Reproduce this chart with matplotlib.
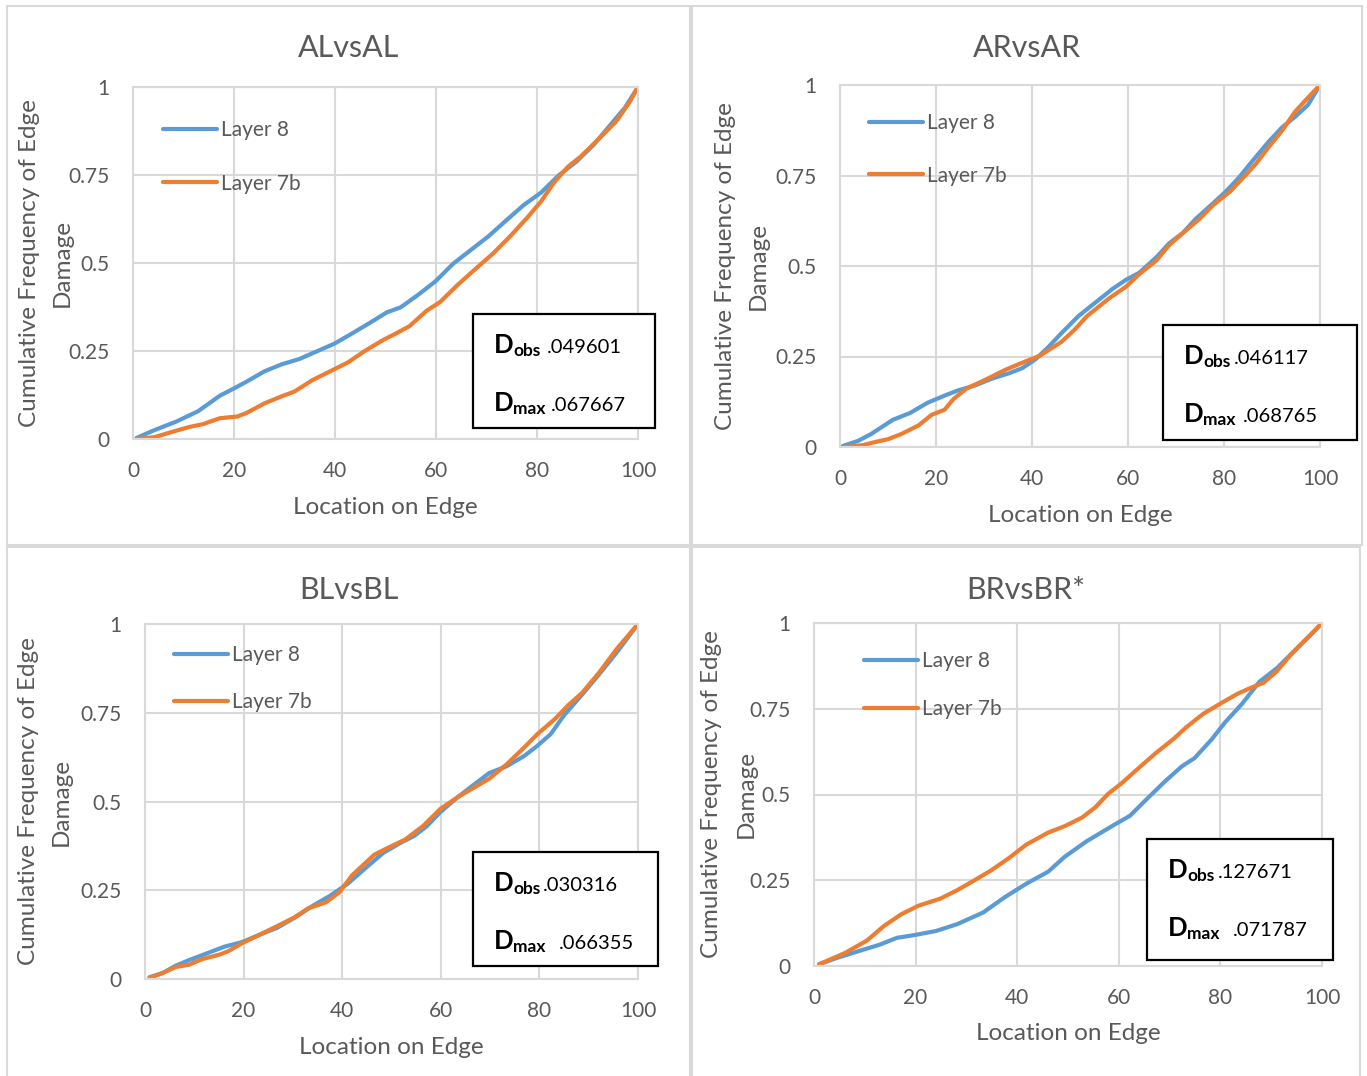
import matplotlib
matplotlib.use("Agg")
import matplotlib.pyplot as plt
from matplotlib.patches import Rectangle

plt.rcParams['font.family'] = ['Lato', 'DejaVu Sans']

# ---- data (location on edge, cumulative frequency) ----
al_x8 = [0.7, 4.2, 8.5, 12.9, 17.2, 19.9, 22.5, 26, 29.4, 32.9, 36.4, 39.9, 43.4, 46.9, 50.3,
         53, 56.4, 59.9, 63.4, 66.9, 70.4, 73.9, 77.4, 80.8, 84.3, 87.8, 91.3, 94.8, 97.4, 100]
al_y8 = [0.003, 0.025, 0.049, 0.079, 0.123, 0.143, 0.163, 0.192, 0.212, 0.227, 0.249, 0.271, 0.300,
         0.330, 0.360, 0.374, 0.409, 0.448, 0.498, 0.537, 0.576, 0.621, 0.665, 0.700, 0.749, 0.788,
         0.837, 0.897, 0.941, 1.0]
al_x7 = [0.7, 4.2, 7.7, 11.1, 13.8, 17.2, 20.7, 22.5, 26, 29.4, 32, 35.5, 39, 42.5, 46, 49.5, 52.1,
         54.7, 58.2, 60.8, 64.3, 67.8, 71.3, 74.7, 78.2, 80.8, 83.4, 86.1, 88.7, 92.2, 95.6, 98.3, 100]
al_y7 = [0.0, 0.005, 0.020, 0.034, 0.042, 0.059, 0.064, 0.074, 0.101, 0.121, 0.135, 0.167, 0.192,
         0.217, 0.251, 0.281, 0.300, 0.320, 0.365, 0.389, 0.438, 0.483, 0.527, 0.576, 0.631, 0.675,
         0.729, 0.773, 0.803, 0.852, 0.901, 0.956, 1.0]

ar_x8 = [0.6, 3.8, 6.5, 11, 14.6, 18.2, 21.8, 24.5, 28.1, 31.7, 35.3, 38, 40.7, 43.4, 46.1, 49.7,
         53.3, 56.9, 59.6, 62.3, 65.9, 68.6, 71.4, 74.1, 77.7, 80.4, 83.1, 85.8, 89.4, 92.1, 94.8,
         97.5, 100]
ar_y8 = [0.003, 0.017, 0.036, 0.075, 0.094, 0.122, 0.142, 0.156, 0.170, 0.189, 0.204, 0.218, 0.242,
         0.276, 0.314, 0.362, 0.400, 0.438, 0.462, 0.481, 0.524, 0.563, 0.591, 0.630, 0.673, 0.706,
         0.744, 0.788, 0.845, 0.883, 0.912, 0.945, 1.0]
ar_x7 = [1.1, 4.7, 7.4, 10.1, 12.8, 16.4, 19.1, 21.8, 23.6, 26.3, 30.8, 34.4, 38, 41.6, 46.1, 48.8,
         51.5, 56, 59.6, 62.3, 65.9, 68.6, 72.3, 74.9, 77.7, 81.3, 84, 86.7, 89.4, 92.1, 94.8, 97.5, 100]
ar_y7 = [0.0, 0.005, 0.014, 0.022, 0.036, 0.060, 0.089, 0.103, 0.132, 0.161, 0.189, 0.213, 0.233,
         0.252, 0.290, 0.323, 0.362, 0.410, 0.443, 0.477, 0.515, 0.558, 0.601, 0.630, 0.668, 0.706,
         0.744, 0.783, 0.830, 0.874, 0.926, 0.965, 1.0]

bl_x8 = [0.9, 3.6, 6.3, 8.9, 12.5, 16.1, 19.7, 23.3, 26.8, 30.4, 34, 37.6, 41.1, 44.7, 48.3, 51.9,
         54.6, 57.2, 59.9, 63.5, 66.2, 69.8, 73.3, 76.9, 79.6, 82.3, 85, 88.6, 92.1, 95.7, 100]
bl_y8 = [0.005, 0.017, 0.038, 0.053, 0.072, 0.091, 0.104, 0.125, 0.144, 0.173, 0.206, 0.235, 0.268,
         0.312, 0.355, 0.384, 0.403, 0.431, 0.470, 0.513, 0.542, 0.580, 0.599, 0.628, 0.657, 0.690,
         0.743, 0.800, 0.858, 0.920, 1.0]
bl_x7 = [0.9, 3.6, 6.3, 8.9, 11.6, 15.2, 17, 19.7, 23.3, 26.8, 30.4, 33.1, 36.7, 39.4, 42, 46.5,
         49.2, 52.8, 56.4, 59.9, 63.5, 67.1, 69.8, 73.3, 76.9, 79.6, 83.2, 85.9, 88.6, 92.1, 95.7, 100]
bl_y7 = [0.003, 0.017, 0.034, 0.040, 0.056, 0.069, 0.079, 0.101, 0.125, 0.149, 0.174, 0.199, 0.216,
         0.244, 0.292, 0.350, 0.369, 0.393, 0.431, 0.479, 0.513, 0.542, 0.564, 0.604, 0.652, 0.690,
         0.733, 0.772, 0.805, 0.863, 0.930, 1.0]

br_x8 = [1, 4.4, 8.7, 12.9, 16.3, 19.7, 24, 28.2, 33.3, 37.6, 41.8, 46.1, 49.4, 53.7, 58.8, 62.2,
         65.6, 69, 72.4, 74.9, 78.3, 80.9, 84.3, 87.7, 91.1, 94.5, 97.9, 100]
br_y8 = [0.005, 0.023, 0.043, 0.062, 0.082, 0.090, 0.102, 0.122, 0.156, 0.201, 0.240, 0.275, 0.319,
         0.364, 0.409, 0.438, 0.488, 0.537, 0.582, 0.606, 0.661, 0.710, 0.765, 0.829, 0.868, 0.918,
         0.967, 1.0]
br_x7 = [1, 6.1, 10.4, 13.8, 17.2, 20.6, 24.8, 28.2, 31.6, 35, 38.4, 41.8, 46.1, 49.4, 52.8, 55.4,
         57.9, 60.5, 63.9, 67.3, 70.7, 73.2, 76.6, 80, 83.4, 86, 88.5, 91.1, 93.6, 96.2, 100]
br_y7 = [0.005, 0.038, 0.074, 0.117, 0.151, 0.176, 0.196, 0.221, 0.250, 0.280, 0.315, 0.354, 0.389,
         0.408, 0.433, 0.463, 0.502, 0.532, 0.577, 0.621, 0.661, 0.695, 0.735, 0.765, 0.794, 0.811,
         0.826, 0.859, 0.903, 0.943, 1.0]

titles = ['ALvsAL', 'ARvsAR', 'BLvsBL', 'BRvsBR*']
d_obs = ['.049601', '.046117', '.030316', '.127671']
d_max = ['.067667', '.068765', '.066355', '.071787']
series_names = ['Layer 8', 'Layer 7b']
y_label_lines = ['Cumulative Frequency of Edge', 'Damage']
x_ticks = [0, 20, 40, 60, 80, 100]
y_ticks = [0, 0.25, 0.5, 0.75, 1]
y_ticklabels = ['0', '0.25', '0.5', '0.75', '1']

BLUE = '#5B9BD5'
ORANGE = '#ED7D31'
GREY_TXT = '#595959'
GRID = '#D9D9D9'

W, H = 1367, 1076

# layout in pixels of the reference image
panels = [
    dict(frame=(7, 6, 690, 545), ax=(133, 87, 638, 439), leg=(0.059, 0.905, 1.6), ylab_x=(30, 62),
         title_y=48, box=(473, 314, 655, 428), val_dx=(74, 78)),
    dict(frame=(692, 6, 1362, 545), ax=(840, 85, 1320, 447), leg=(0.060, 0.922, 1.55), ylab_x=(725, 758),
         title_y=48, box=(1163, 325, 1357, 440), val_dx=(71, 80)),
    dict(frame=(7, 547, 690, 1080), ax=(145, 624, 638, 979), leg=(0.059, 0.940, 1.3), ylab_x=(29, 61),
         title_y=590, box=(473, 852, 658, 966), val_dx=(70, 86)),
    dict(frame=(692, 547, 1360, 1080), ax=(814, 623, 1322, 966), leg=(0.098, 0.918, 1.35), ylab_x=(712, 746),
         title_y=590, box=(1147, 839, 1333, 960), val_dx=(71, 86)),
]
data = [(al_x8, al_y8, al_x7, al_y7), (ar_x8, ar_y8, ar_x7, ar_y7),
        (bl_x8, bl_y8, bl_x7, bl_y7), (br_x8, br_y8, br_x7, br_y7)]


def fx(px):
    return px / W


def fy(py):
    return 1 - py / H


fig = plt.figure(figsize=(W / 100, H / 100), dpi=100)

for i, p in enumerate(panels):
    l, t, r, b = p['frame']
    fig.add_artist(Rectangle((fx(l), fy(b)), fx(r - l), (b - t) / H, transform=fig.transFigure,
                             fill=False, edgecolor=GRID, lw=1.5, zorder=0.5))

    al, at, ar, ab = p['ax']
    ax = fig.add_axes([fx(al), fy(ab), fx(ar - al), (ab - at) / H])
    x8, y8, x7, y7 = data[i]
    ax.plot(x8, y8, color=BLUE, lw=3, label=series_names[0], solid_capstyle='round')
    ax.plot(x7, y7, color=ORANGE, lw=3, label=series_names[1], solid_capstyle='round')
    ax.set_xlim(0, 100)
    ax.set_ylim(0, 1)
    ax.set_xticks(x_ticks)
    ax.set_yticks(y_ticks)
    ax.set_yticklabels(y_ticklabels)
    ax.grid(True, color=GRID, lw=1.5)
    ax.set_axisbelow(True)
    for s in ax.spines.values():
        s.set_color(GRID)
        s.set_linewidth(1.5)
    ax.tick_params(length=0, labelsize=15, labelcolor=GREY_TXT)
    ax.tick_params(axis='y', pad=17)
    ax.tick_params(axis='x', pad=16)
    ax.set_xlabel('Location on Edge', fontsize=17.5, color=GREY_TXT, labelpad=11)

    lx, ly, lsp = p['leg']
    ax.legend(loc='upper left', bbox_to_anchor=(lx, ly), frameon=False, fontsize=15,
              handlelength=2.6, handletextpad=0.2, labelspacing=lsp, borderpad=0,
              borderaxespad=0, labelcolor=GREY_TXT)

    # title centred on the panel frame
    fig.text(fx((l + r) / 2), fy(p['title_y']), titles[i], fontsize=22, color=GREY_TXT,
             ha='center', va='center')
    # y label, two centred lines
    for k, line in enumerate(y_label_lines):
        fig.text(fx(p['ylab_x'][k]), fy((at + ab) / 2), line, rotation=90,
                 ha='center', va='center', fontsize=17.5, color=GREY_TXT)

    # statistics box
    bl_, bt, br_, bb = p['box']
    fig.add_artist(Rectangle((fx(bl_), fy(bb)), fx(br_ - bl_), (bb - bt) / H,
                             transform=fig.transFigure, facecolor='white',
                             edgecolor='black', lw=1.6, zorder=5))
    for row, (sub, val) in enumerate([('obs', d_obs[i]), ('max', d_max[i])]):
        base = bt + 39 + row * 58
        fig.text(fx(bl_ + 21), fy(base), 'D', fontsize=18.5, fontweight='bold',
                 color='black', va='baseline', zorder=6)
        fig.text(fx(bl_ + 40), fy(base + 3), sub, fontsize=12.5, fontweight='bold',
                 color='black', va='baseline', zorder=6)
        fig.text(fx(bl_ + p['val_dx'][row]), fy(base), val, fontsize=14.5,
                 color='black', va='baseline', zorder=6)

fig.savefig('out.png', dpi=100)
